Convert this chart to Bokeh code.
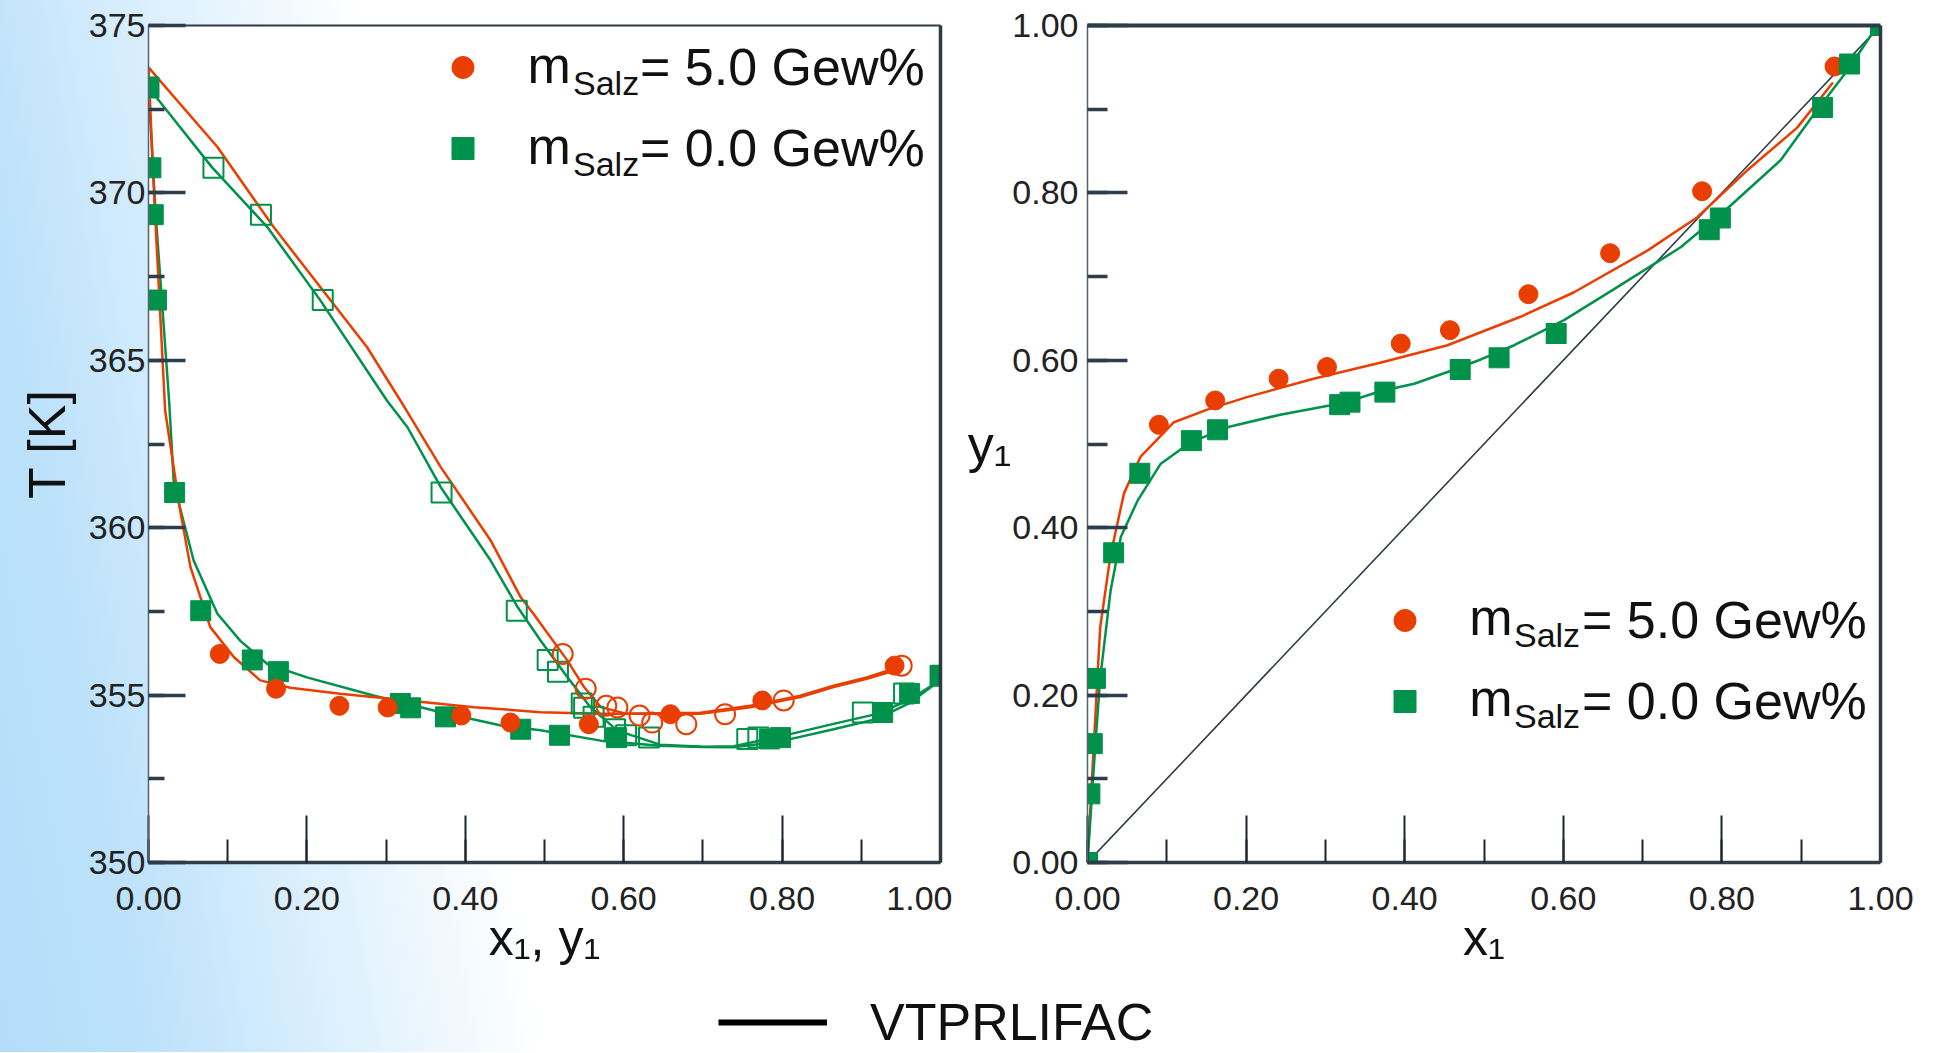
from bokeh.plotting import figure
from bokeh.models import (Range1d, SingleIntervalTicker, LinearAxis, FixedTicker,
                          Label, Legend, LegendItem, ColumnDataSource, PrintfTickFormatter)
from bokeh.layouts import row, column
from bokeh.embed import file_html
from bokeh.resources import INLINE

# ---------------- data ----------------
# m_Salz = 0.0 Gew% (green): liquid x1, vapour y1, temperature T [K]
green_x = [0.000, 0.003, 0.006, 0.010, 0.033, 0.066, 0.131, 0.164, 0.318, 0.331,
           0.375, 0.470, 0.519, 0.591, 0.784, 0.798, 0.927, 0.961, 1.000]
green_y = [0.000, 0.082, 0.142, 0.220, 0.370, 0.465, 0.504, 0.517, 0.547, 0.550,
           0.562, 0.589, 0.603, 0.632, 0.756, 0.770, 0.902, 0.954, 1.000]
green_T = [373.15, 370.75, 369.35, 366.80, 361.05, 357.52, 356.05, 355.70, 354.75, 354.62,
           354.35, 353.98, 353.80, 353.73, 353.69, 353.73, 354.48, 355.05, 355.58]

# m_Salz = 5.0 Gew% (red)
red_x = [0.090, 0.161, 0.241, 0.302, 0.395, 0.457, 0.556, 0.659, 0.775, 0.942]
red_y = [0.523, 0.552, 0.578, 0.592, 0.620, 0.636, 0.679, 0.728, 0.802, 0.951]
red_T = [356.23, 355.19, 354.68, 354.63, 354.39, 354.18, 354.13, 354.43, 354.84, 355.88]

# VTPRLIFAC model curves, T-x and T-y
gl_x = [0.000, 0.009, 0.026, 0.032, 0.057, 0.087, 0.116, 0.150, 0.200, 0.284, 0.369, 0.444,
        0.495, 0.571, 0.646, 0.700, 0.739, 0.780, 0.802, 0.865, 0.920, 0.960, 1.000]
gl_T = [373.15, 369.38, 363.80, 361.31, 359.02, 357.43, 356.62, 355.93, 355.53, 354.99, 354.49, 354.10,
        353.95, 353.64, 353.49, 353.45, 353.44, 353.56, 353.64, 353.98, 354.29, 354.75, 355.45]
gv_x = [0.000, 0.080, 0.150, 0.217, 0.301, 0.327, 0.369, 0.432, 0.466, 0.495, 0.529, 0.558,
        0.592, 0.646, 0.700, 0.739, 0.780, 0.802, 0.865, 0.920, 0.960, 1.000]
gv_T = [373.15, 370.77, 368.98, 366.79, 363.80, 363.00, 361.21, 359.02, 357.63, 356.63, 355.53, 354.64,
        353.94, 353.52, 353.46, 353.47, 353.68, 353.79, 354.14, 354.44, 354.85, 355.45]
rl_x = [0.000, 0.007, 0.021, 0.040, 0.053, 0.078, 0.108, 0.141, 0.179, 0.242, 0.327, 0.411,
        0.495, 0.571, 0.697, 0.760, 0.823, 0.865, 0.907, 0.940]
rl_T = [373.75, 369.97, 363.50, 360.51, 358.82, 357.03, 356.13, 355.44, 355.22, 355.04, 354.84, 354.64,
        354.49, 354.44, 354.44, 354.64, 354.94, 355.24, 355.49, 355.72]
rv_x = [0.000, 0.087, 0.158, 0.276, 0.318, 0.369, 0.432, 0.470, 0.486, 0.529, 0.550, 0.571,
        0.604, 0.697, 0.760, 0.823, 0.865, 0.907, 0.940]
rv_T = [373.75, 371.37, 368.98, 365.39, 363.80, 361.81, 359.62, 357.92, 357.43, 356.03, 355.24, 354.64,
        354.44, 354.47, 354.68, 354.98, 355.28, 355.53, 355.78]

# VTPRLIFAC model curves, y-x
rm_x = [0.000, 0.008, 0.016, 0.029, 0.046, 0.067, 0.109, 0.151, 0.201, 0.285, 0.369, 0.454,
        0.546, 0.613, 0.706, 0.769, 0.832, 0.895, 0.940]
rm_y = [0.000, 0.142, 0.281, 0.367, 0.441, 0.485, 0.526, 0.541, 0.556, 0.578, 0.597, 0.618,
        0.652, 0.681, 0.731, 0.771, 0.827, 0.878, 0.932]
gm_x = [0.000, 0.010, 0.016, 0.029, 0.042, 0.063, 0.092, 0.130, 0.180, 0.243, 0.327, 0.369, 0.412,
        0.454, 0.496, 0.538, 0.601, 0.664, 0.748, 0.811, 0.874, 0.916, 0.958, 0.992, 1.000]
gm_y = [0.000, 0.142, 0.220, 0.324, 0.389, 0.432, 0.476, 0.502, 0.521, 0.535, 0.550, 0.563, 0.572,
        0.586, 0.601, 0.618, 0.648, 0.685, 0.735, 0.785, 0.839, 0.894, 0.946, 0.994, 1.000]
diag = [0.0, 1.0]

legend_red = "= 5.0 Gew%"
legend_green = "= 0.0 Gew%"
model_name = "VTPRLIFAC"

# ---------------- style ----------------
RED = "#ea3e00"
GREEN = "#00914b"
TICK_FONT = "Liberation Sans"
TEXT_FONT = "Liberation Sans"
TICK_COL = "#2e3d4c"
FIG_H = 976


def base_fig(width, yr, mbl, mbr):
    p = figure(width=width, height=FIG_H, x_range=Range1d(0, 1), y_range=Range1d(*yr),
               x_axis_type=None, y_axis_type=None, output_backend="svg",
               toolbar_location=None, min_border_left=mbl, min_border_right=mbr,
               min_border_top=25, min_border_bottom=FIG_H - 25 - 837,
               background_fill_color="white", border_fill_color=None,
               outline_line_color=None)
    return p


def add_axes(p, y_interval, y_fmt, y_major_in, y_minor_in, x_label, y_label,
             y_label_orient, y_label_standoff, y_tick_standoff, top_w, right_w):
    xa = LinearAxis(ticker=SingleIntervalTicker(interval=0.2, num_minor_ticks=2),
                    formatter=PrintfTickFormatter(format="%.2f"),
                    axis_label=x_label, axis_label_text_font_size="50px",
                    axis_label_text_font=TEXT_FONT, axis_label_text_font_style="normal",
                    axis_label_text_color="#111", axis_label_standoff=-3,
                    major_label_text_font=TICK_FONT, major_label_text_font_size="34px",
                    major_label_text_color="#222", major_label_standoff=24,
                    major_tick_in=47, major_tick_out=0, minor_tick_in=23, minor_tick_out=0,
                    major_tick_line_color="#1c252d", minor_tick_line_color="#1c252d",
                    major_tick_line_width=2, minor_tick_line_width=2,
                    axis_line_width=3.5, axis_line_color="#333d47")
    p.add_layout(xa, "below")
    ya = LinearAxis(ticker=SingleIntervalTicker(interval=y_interval, num_minor_ticks=2),
                    formatter=PrintfTickFormatter(format=y_fmt),
                    axis_label=y_label, axis_label_text_font_size="52px",
                    axis_label_text_font=TEXT_FONT, axis_label_text_font_style="normal",
                    axis_label_text_color="#111", axis_label_standoff=y_label_standoff,
                    axis_label_orientation=y_label_orient,
                    major_label_text_font=TICK_FONT, major_label_text_font_size="34px",
                    major_label_text_color="#222", major_label_standoff=y_tick_standoff,
                    major_tick_in=y_major_in, major_tick_out=0,
                    minor_tick_in=y_minor_in, minor_tick_out=0,
                    major_tick_line_color=TICK_COL, minor_tick_line_color=TICK_COL,
                    major_tick_line_width=3.5, minor_tick_line_width=3.5,
                    axis_line_width=1.5, axis_line_color="#56626d")
    p.add_layout(ya, "left")
    for loc, w in (("above", top_w), ("right", right_w)):
        ax = LinearAxis(ticker=FixedTicker(ticks=[]), axis_line_width=w,
                        axis_line_color="#2f3a44", major_tick_in=0, major_tick_out=0,
                        minor_tick_in=0, minor_tick_out=0,
                        major_label_text_font_size="0px", major_label_standoff=0)
        p.add_layout(ax, loc)


def add_legend(p, loc, ym, ys, xm, xs, standoff, r1, r2):
    leg = Legend(items=[LegendItem(label=legend_red, renderers=[r1]),
                        LegendItem(label=legend_green, renderers=[r2])],
                 location=loc, glyph_width=55, glyph_height=60, label_height=60,
                 spacing=21, padding=0, margin=0, label_standoff=standoff,
                 label_text_font=TEXT_FONT, label_text_font_size="52px",
                 label_text_color="#111", border_line_color=None,
                 background_fill_alpha=0)
    p.add_layout(leg, "center")
    for yy_m, yy_s in zip(ym, ys):
        p.add_layout(Label(x=xm, y=yy_m, text="m", text_font=TEXT_FONT,
                           text_font_size="52px", text_color="#111",
                           text_baseline="middle"))
        p.add_layout(Label(x=xs, y=yy_s, text="Salz", text_font=TEXT_FONT,
                           text_font_size="34px", text_color="#111",
                           text_baseline="middle"))


# ---------------- left: T-x,y ----------------
p1 = base_fig(952, (350, 375), 148, 12)
add_axes(p1, 5, "%d", 37, 16, "x\u2081, y\u2081", "T [K]", "parallel", 10, 3, 2, 3.5)

src_g = ColumnDataSource(dict(x=green_x, y=green_y, T=green_T))
src_r = ColumnDataSource(dict(x=red_x, y=red_y, T=red_T))

p1.line(gl_x, gl_T, line_color=GREEN, line_width=2.5)
p1.line(gv_x, gv_T, line_color=GREEN, line_width=2.5)
p1.line(rl_x, rl_T, line_color=RED, line_width=2.5)
p1.line(rv_x, rv_T, line_color=RED, line_width=2.5)

p1.scatter("y", "T", source=src_g, marker="square", size=20, fill_color=None,
           line_color=GREEN, line_width=2)
p1.scatter("y", "T", source=src_r, marker="circle", size=20, fill_color=None,
           line_color=RED, line_width=2)
g1 = p1.scatter("x", "T", source=src_g, marker="square", size=20, color=GREEN)
r1 = p1.scatter("x", "T", source=src_r, marker="circle", size=19, color=RED)

add_legend(p1, (287, 684), (373.817, 371.398), (373.271, 370.854), 0.4785, 0.536, 150, r1, g1)

# ---------------- right: y-x ----------------
p2 = base_fig(968, (0, 1), 135, 40)
add_axes(p2, 0.2, "%.2f", 40, 20, "x\u2081", "y\u2081", "horizontal", -2, 9, 4, 3.5)

p2.line(diag, diag, line_color="#2f3d4a", line_width=1.6)
p2.line(rm_x, rm_y, line_color=RED, line_width=2.5)
p2.line(gm_x, gm_y, line_color=GREEN, line_width=2.5)
r2 = p2.scatter("x", "y", source=src_r, marker="circle", size=19, color=RED)
g2 = p2.scatter("x", "y", source=src_g, marker="square", size=20, color=GREEN)

add_legend(p2, (290, 131), (0.2939, 0.1969), (0.2717, 0.1748), 0.4813, 0.5378, 150, r2, g2)

# ---------------- bottom model legend ----------------
P3_H = 76
p3 = figure(width=1920, height=P3_H, x_range=Range1d(2, 3), y_range=Range1d(2, 3),
            x_axis_type=None, y_axis_type=None, output_backend="svg",
            toolbar_location=None, min_border=0, outline_line_color=None,
            background_fill_color=None, border_fill_color=None)
# proxy renderer (lies outside the visible range) that carries the legend line style
rm = p3.line(diag, diag, line_color="black", line_width=6)
leg3 = Legend(items=[LegendItem(label=model_name, renderers=[rm])],
              location=(718, 0), glyph_width=109, glyph_height=58, label_height=58,
              label_standoff=43, padding=0, margin=0, label_text_font=TEXT_FONT,
              label_text_font_size="52px", label_text_color="#111",
              border_line_color=None, background_fill_alpha=0)
p3.add_layout(leg3, "center")

layout = column(row(p1, p2), p3,
                styles={"background": "linear-gradient(80deg, #b3ddfa 0px, #bde2fb 150px, #ffffff 540px)"})

open("out.html", "w").write(file_html(layout, INLINE))
